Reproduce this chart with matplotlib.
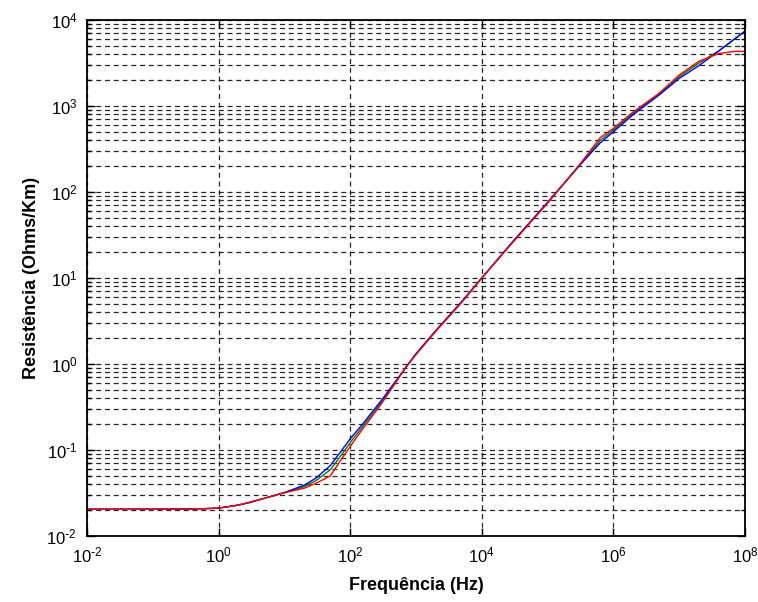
import numpy as np
import matplotlib
matplotlib.use("Agg")
import matplotlib.pyplot as plt
from matplotlib.ticker import LogLocator, NullLocator, FixedLocator, NullFormatter

plt.rcParams['font.family'] = ['Liberation Sans', 'DejaVu Sans']
plt.rcParams['mathtext.default'] = 'regular'

# frequency points (Hz)
freq = [0.01, 0.1, 0.3, 0.5, 1, 2, 3, 5, 10, 20, 30, 50, 70, 100, 150, 300, 700,
        1e3, 2e3, 5e3, 1e4, 3e4, 1e5, 3e5, 6.3e5, 1e6, 2e6, 5e6,
        1e7, 2e7, 4e7, 7e7, 1e8]

# resistance (Ohms/Km) for the three curves
r_green = [0.0205, 0.0205, 0.0206, 0.0207, 0.0211, 0.0229, 0.0247, 0.0275, 0.0320,
           0.0375, 0.0440, 0.0590, 0.0832, 0.122, 0.182, 0.363, 0.912,
           1.30, 2.43, 5.30, 10.0, 26.6, 75.0, 200, 398, 525, 822, 1380,
           2188, 3162, 4365, 6026, 7413]
r_blue = [0.0205, 0.0205, 0.0206, 0.0207, 0.0211, 0.0229, 0.0245, 0.0275, 0.0320,
          0.0390, 0.0470, 0.0661, 0.0933, 0.135, 0.195, 0.380, 0.912,
          1.32, 2.45, 5.37, 10.0, 26.9, 75.9, 200, 372, 501, 794, 1349,
          2089, 2951, 4365, 6026, 7413]
r_red = [0.0205, 0.0205, 0.0206, 0.0207, 0.0211, 0.0229, 0.0248, 0.0275, 0.0318,
         0.0360, 0.0410, 0.0500, 0.0741, 0.110, 0.170, 0.347, 0.912,
         1.29, 2.40, 5.25, 10.0, 26.3, 74.1, 204, 427, 550, 851, 1413,
         2291, 3311, 4074, 4315, 4315]

xticks = [1e-2, 1e0, 1e2, 1e4, 1e6, 1e8]
xticklabels = ['$10^{\\text{-}2}$', '$10^{0}$', '$10^{2}$', '$10^{4}$', '$10^{6}$', '$10^{8}$']
yticks = [1e-2, 1e-1, 1e0, 1e1, 1e2, 1e3, 1e4]
yticklabels = ['$10^{\\text{-}2}$', '$10^{\\text{-}1}$', '$10^{0}$', '$10^{1}$',
               '$10^{2}$', '$10^{3}$', '$10^{4}$']

fig = plt.figure(figsize=(7.58, 6.02), dpi=100)
ax = fig.add_axes([0.1148, 0.1096, 0.868, 0.8572])

ax.loglog(freq, r_green, color='#008000', lw=1.0)
ax.loglog(freq, r_blue, color='#0000ff', lw=1.0)
ax.loglog(freq, r_red, color='#ff0000', lw=1.0)

ax.set_xlim(1e-2, 1e8)
ax.set_ylim(1e-2, 1e4)

ax.xaxis.set_major_locator(FixedLocator(xticks))
ax.xaxis.set_minor_locator(NullLocator())
ax.set_xticklabels(xticklabels)
ax.yaxis.set_major_locator(FixedLocator(yticks))
ax.yaxis.set_minor_locator(LogLocator(base=10, subs=np.arange(2, 10), numticks=20))
ax.set_yticklabels(yticklabels)
ax.yaxis.set_minor_formatter(NullFormatter())

ax.grid(True, which='major', axis='both', color='black', linestyle=(0, (4, 3)), lw=0.9, alpha=0.85)
ax.grid(True, which='minor', axis='y', color='black', linestyle=(0, (4, 3)), lw=0.9, alpha=0.85)
ax.set_axisbelow(True)

ax.tick_params(which='both', direction='in', top=True, right=True, labelsize=12, colors='black')
ax.tick_params(which='major', length=6, width=1, pad=7)
ax.tick_params(which='minor', length=3, width=1)
for s in ax.spines.values():
    s.set_linewidth(1.3)

ax.set_xlabel('Frequência (Hz)', fontsize=13, fontweight='bold', labelpad=8)
ax.set_ylabel('Resistência (Ohms/Km)', fontsize=13, fontweight='bold', labelpad=5)

fig.savefig('out.png', dpi=100)
